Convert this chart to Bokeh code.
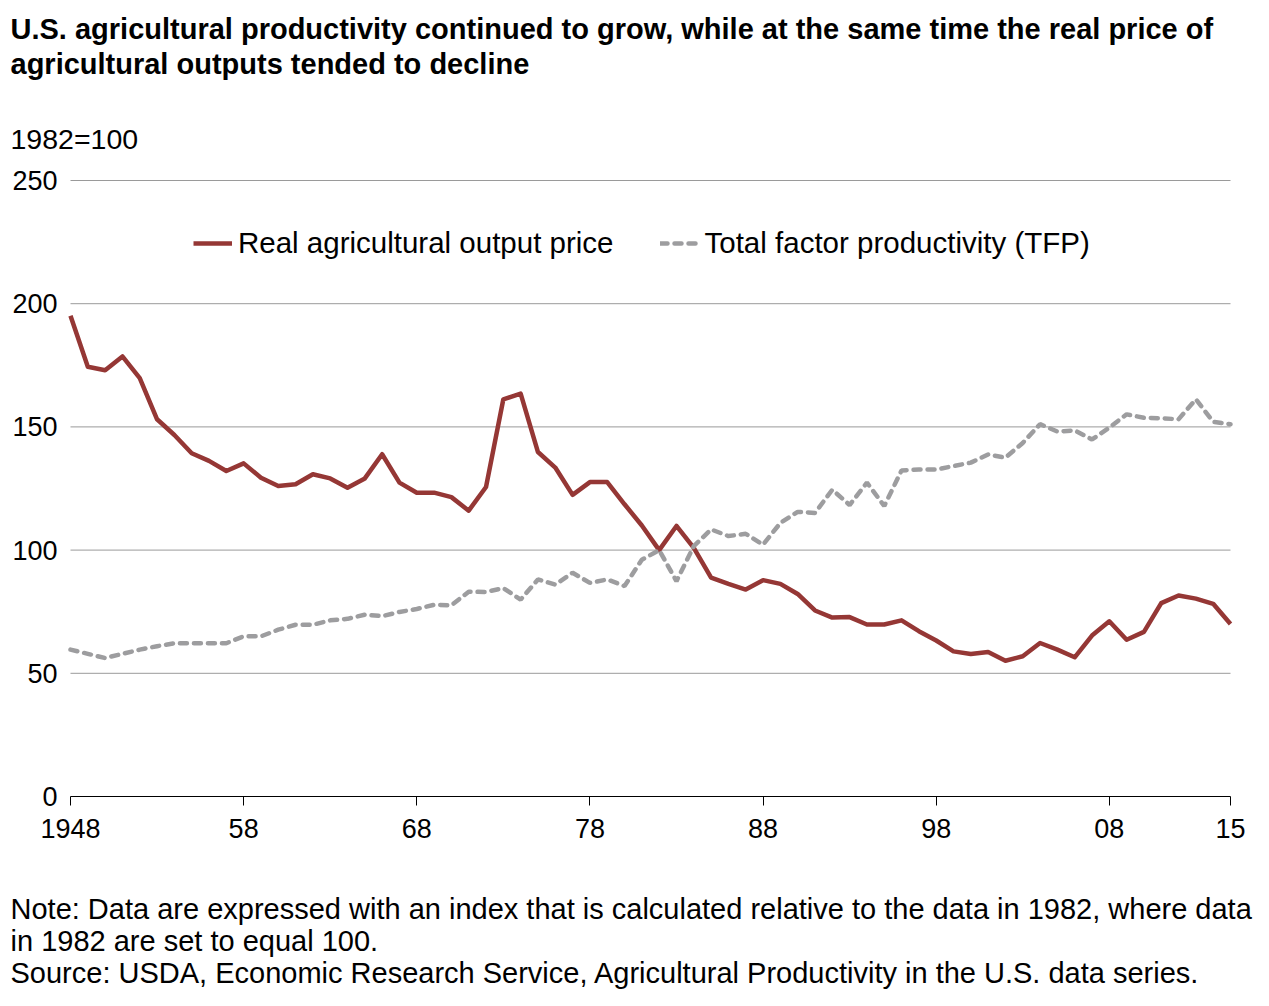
from bokeh.plotting import figure
from bokeh.models import Range1d, FixedTicker, Label, Legend, LegendItem
from bokeh.embed import file_html
from bokeh.resources import INLINE

years = list(range(1948, 2016))

price = [195.1, 174.4, 173.0, 178.6, 169.8, 153.1, 146.7, 139.3, 136.2, 132.1,
         135.2, 129.4, 126.0, 126.7, 130.8, 129.1, 125.3, 129.1, 138.9, 127.4,
         123.3, 123.3, 121.5, 116.0, 125.6, 161.2, 163.5, 139.8, 133.5, 122.4,
         127.6, 127.6, 118.6, 110.0, 100.0, 109.8, 100.9, 88.8, 86.3, 84.0,
         87.8, 86.3, 82.2, 75.5, 72.6, 72.8, 69.8, 69.8, 71.5, 67.1,
         63.3, 58.9, 57.8, 58.6, 55.1, 56.9, 62.3, 59.6, 56.5, 65.3,
         71.1, 63.6, 66.8, 78.5, 81.6, 80.3, 78.2, 70.0]

tfp = [59.6, 57.9, 56.2, 57.9, 59.6, 61.0, 62.2, 62.2, 62.2, 62.2,
       65.0, 65.0, 67.7, 69.7, 69.7, 71.5, 72.1, 73.8, 73.2, 74.9,
       76.1, 77.8, 77.6, 83.1, 83.0, 84.6, 79.9, 88.1, 86.0, 90.8,
       86.7, 88.1, 85.4, 96.1, 100.0, 87.4, 101.6, 108.4, 105.7, 106.6,
       102.2, 111.0, 115.5, 115.1, 124.5, 118.3, 127.4, 117.9, 132.3, 132.7,
       132.7, 134.1, 135.5, 138.8, 137.5, 143.5, 151.1, 148.1, 148.6, 144.9,
       149.7, 155.1, 153.7, 153.5, 153.1, 161.2, 152.1, 151.1]

x_ticks = [1948, 1958, 1968, 1978, 1988, 1998, 2008, 2015]
x_tick_labels = ["1948", "58", "68", "78", "88", "98", "08", "15"]
y_ticks = [0, 50, 100, 150, 200, 250]

title_lines = ["U.S. agricultural productivity continued to grow, while at the same time the real price of",
               "agricultural outputs tended to decline"]
unit_label = "1982=100"
note_lines = ["Note: Data are expressed with an index that is calculated relative to the data in 1982, where data",
              "in 1982 are set to equal 100.",
              "Source: USDA, Economic Research Service, Agricultural Productivity in the U.S. data series."]
series_names = ["Real agricultural output price", "Total factor productivity (TFP)"]

FONT = "Liberation Sans"
RED = "#953735"
GRAY = "#9d9d9f"

# page geometry (pixels)
W, H = 1269, 1006
PX_LEFT, PX_RIGHT = 70, 1230     # x of first / last year
PY_ZERO, PY_TOP = 796, 180       # y of 0 / 250

xs = (PX_RIGHT - PX_LEFT) / (x_ticks[-1] - x_ticks[0])
ys = (PY_ZERO - PY_TOP) / (y_ticks[-1] - y_ticks[0])
x_range = Range1d(x_ticks[0] - PX_LEFT / xs, x_ticks[-1] + (W - PX_RIGHT) / xs)
y_range = Range1d(-(H - PY_ZERO) / ys, PY_ZERO / ys)

p = figure(width=W, height=H, output_backend="svg", toolbar_location=None,
           x_range=x_range, y_range=y_range, min_border=0)
p.outline_line_color = None
p.background_fill_color = "white"
p.border_fill_color = "white"
p.xgrid.grid_line_color = None
p.ygrid.grid_line_color = None

# horizontal grid lines spanning the data years only
grid_vals = y_ticks[1:]
p.segment(x0=[x_ticks[0]] * len(grid_vals), x1=[x_ticks[-1]] * len(grid_vals),
          y0=grid_vals, y1=grid_vals, line_color="#9a9a9a", line_width=1)

xa = p.xaxis[0]
xa.fixed_location = 0
xa.bounds = (x_ticks[0], x_ticks[-1])
xa.ticker = FixedTicker(ticks=x_ticks)
xa.major_label_overrides = {t: l for t, l in zip(x_ticks, x_tick_labels)}
xa.axis_line_color = "black"
xa.axis_line_width = 1
xa.major_tick_line_color = "black"
xa.major_tick_in = 0
xa.major_tick_out = 9
xa.minor_tick_line_color = None
xa.major_label_standoff = 13
xa.major_label_text_font = FONT
xa.major_label_text_font_size = "27px"
xa.major_label_text_color = "black"

ya = p.yaxis[0]
ya.fixed_location = x_ticks[0]
ya.bounds = (y_ticks[0], y_ticks[-1])
ya.ticker = FixedTicker(ticks=y_ticks)
ya.axis_line_color = None
ya.major_tick_line_color = None
ya.minor_tick_line_color = None
ya.major_tick_in = 0
ya.major_tick_out = 0
ya.major_label_standoff = 13
ya.major_label_text_font = FONT
ya.major_label_text_font_size = "27px"
ya.major_label_text_color = "black"

r1 = p.line(years, price, line_color=RED, line_width=4.5, line_join="round")
r2 = p.line(years, tfp, line_color=GRAY, line_width=4.5, line_dash="7 7", line_cap="round")

legend = Legend(items=[LegendItem(label=series_names[0], renderers=[r1]),
                       LegendItem(label=series_names[1], renderers=[r2])],
                orientation="horizontal", location=(193, H - 260),
                border_line_color=None, background_fill_alpha=0,
                padding=0, margin=0, spacing=46, label_standoff=6,
                glyph_width=39, glyph_height=34,
                label_text_font=FONT, label_text_font_size="29.5px", label_text_color="black")
p.add_layout(legend, "center")

# frame covers the whole canvas: screen x = page x, screen y = H - page y
def add_text(txt, px, py, bold=False, size="27px"):
    p.add_layout(Label(x=px, y=H - py, x_units="screen", y_units="screen",
                       text=txt, text_font=FONT, text_font_size=size,
                       text_font_style="bold" if bold else "normal",
                       text_align="left", text_baseline="middle", text_color="black"))

add_text(title_lines[0], 10, 28, bold=True, size="29px")
add_text(title_lines[1], 10, 63, bold=True, size="29px")
add_text(unit_label, 10, 138, size="28.5px")
add_text(note_lines[0], 10, 908, size="29px")
add_text(note_lines[1], 10, 940, size="29px")
add_text(note_lines[2], 10, 972, size="29px")

open("out.html", "w").write(file_html(p, INLINE))
